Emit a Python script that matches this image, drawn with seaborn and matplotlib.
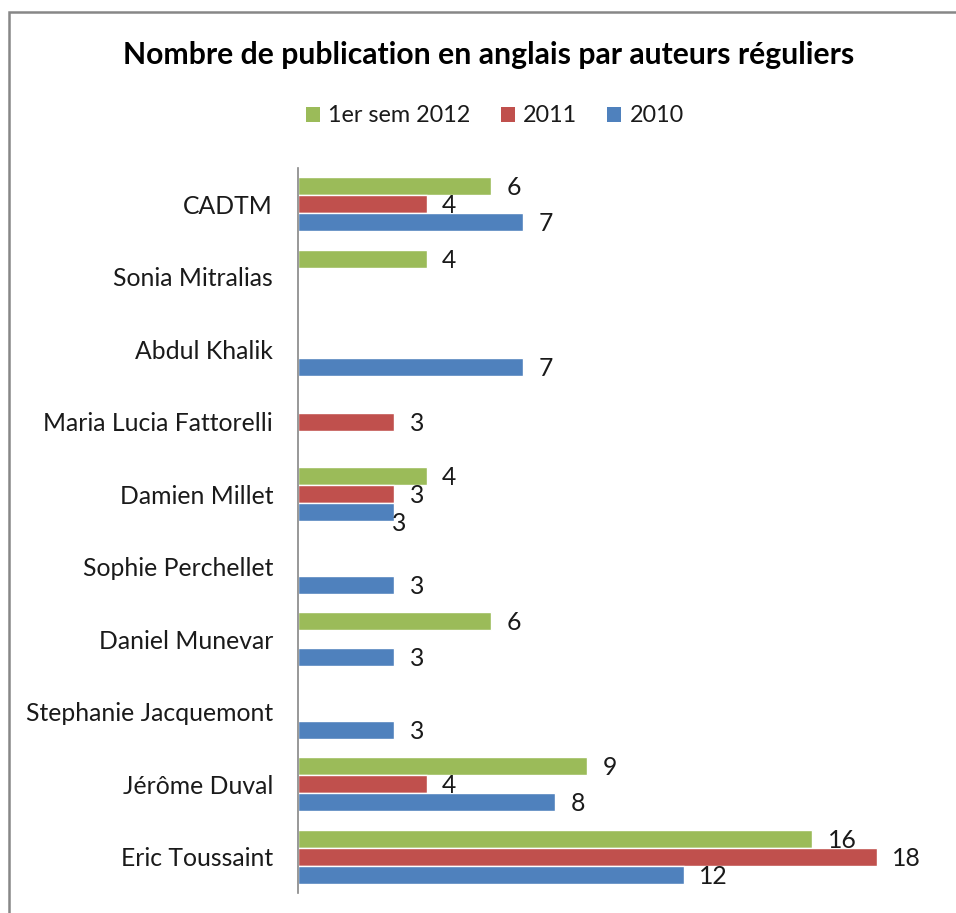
import numpy as np
import pandas as pd
import matplotlib
matplotlib.use("Agg")
import matplotlib.pyplot as plt
import seaborn as sns
from matplotlib.patches import Rectangle, Patch

categories = ["CADTM", "Sonia Mitralias", "Abdul Khalik", "Maria Lucia Fattorelli",
              "Damien Millet", "Sophie Perchellet", "Daniel Munevar",
              "Stephanie Jacquemont", "Jérôme Duval", "Eric Toussaint"]
series = ["1er sem 2012", "2011", "2010"]
vals_2012 = [6, 4, np.nan, np.nan, 4, np.nan, 6, np.nan, 9, 16]
vals_2011 = [4, np.nan, np.nan, 3, 3, np.nan, np.nan, np.nan, 4, 18]
vals_2010 = [7, np.nan, 7, np.nan, 3, 3, 3, 3, 8, 12]
colors = ["#9BBB59", "#C0504D", "#4F81BD"]

title = "Nombre de publication en anglais par auteurs réguliers"

rows = []
for s, vals in zip(series, [vals_2012, vals_2011, vals_2010]):
    for c, v in zip(categories, vals):
        rows.append({"cat": c, "serie": s, "val": v})
df = pd.DataFrame(rows)

sns.set_style("white")
plt.rcParams["font.family"] = ["Lato", "DejaVu Sans"]

W, H = 956, 913
fig = plt.figure(figsize=(W / 100, H / 100), dpi=100)
ax = fig.add_axes([298 / W, (H - 893) / H, (941 - 298) / W, (893 - 168) / H])

sns.barplot(data=df, y="cat", x="val", hue="serie", order=categories,
            hue_order=series, palette=colors, saturation=1, orient="h", width=0.745,
            edgecolor="white", linewidth=1.0, ax=ax, legend=False)

ax.set_xlim(0, 20)
ax.set_ylim(len(categories) - 0.5, -0.5)
ax.set_xlabel("")
ax.set_ylabel("")
ax.set_xticks([])
for side in ["top", "right", "bottom"]:
    ax.spines[side].set_visible(False)
ax.spines["left"].set_color("#868686")
ax.spines["left"].set_linewidth(1.2)
ax.tick_params(axis="y", length=0, pad=18, labelsize=17.8, labelcolor="#1a1a1a")

# data labels
for si, cont in enumerate(ax.containers):
    for p in cont.patches:
        w = p.get_width()
        if not np.isfinite(w) or w == 0:
            continue
        yc = p.get_y() + p.get_height() / 2
        ci = int(round(yc))
        dx, dy = 11, -1
        if categories[ci] == "Damien Millet" and series[si] == "2010":
            dx, dy = -1.5, -8
        ax.annotate(f"{int(w)}", xy=(w, yc), xytext=(dx, dy),
                    textcoords="offset points", ha="left", va="center",
                    fontsize=17.8, color="#1a1a1a")

fig.text(489 / W, 1 - 55 / H, title, ha="center", va="center",
         fontsize=21.7, fontweight="bold", color="black")

handles = [Patch(facecolor=c, edgecolor="none") for c in colors]
leg = fig.legend(handles, series, loc="center", bbox_to_anchor=(495 / W, 1 - 116 / H),
                 ncol=3, frameon=False, fontsize=16.8, handlelength=0.6,
                 handleheight=0.6, handletextpad=0.35, columnspacing=1.3)
for t in leg.get_texts():
    t.set_color("#1a1a1a")

fig.add_artist(Rectangle((9 / W, -0.1), 1.2, 1 - 12 / H + 0.1, transform=fig.transFigure,
                         fill=False, edgecolor="#878787", linewidth=1.8))

fig.savefig("out.png", dpi=100)
